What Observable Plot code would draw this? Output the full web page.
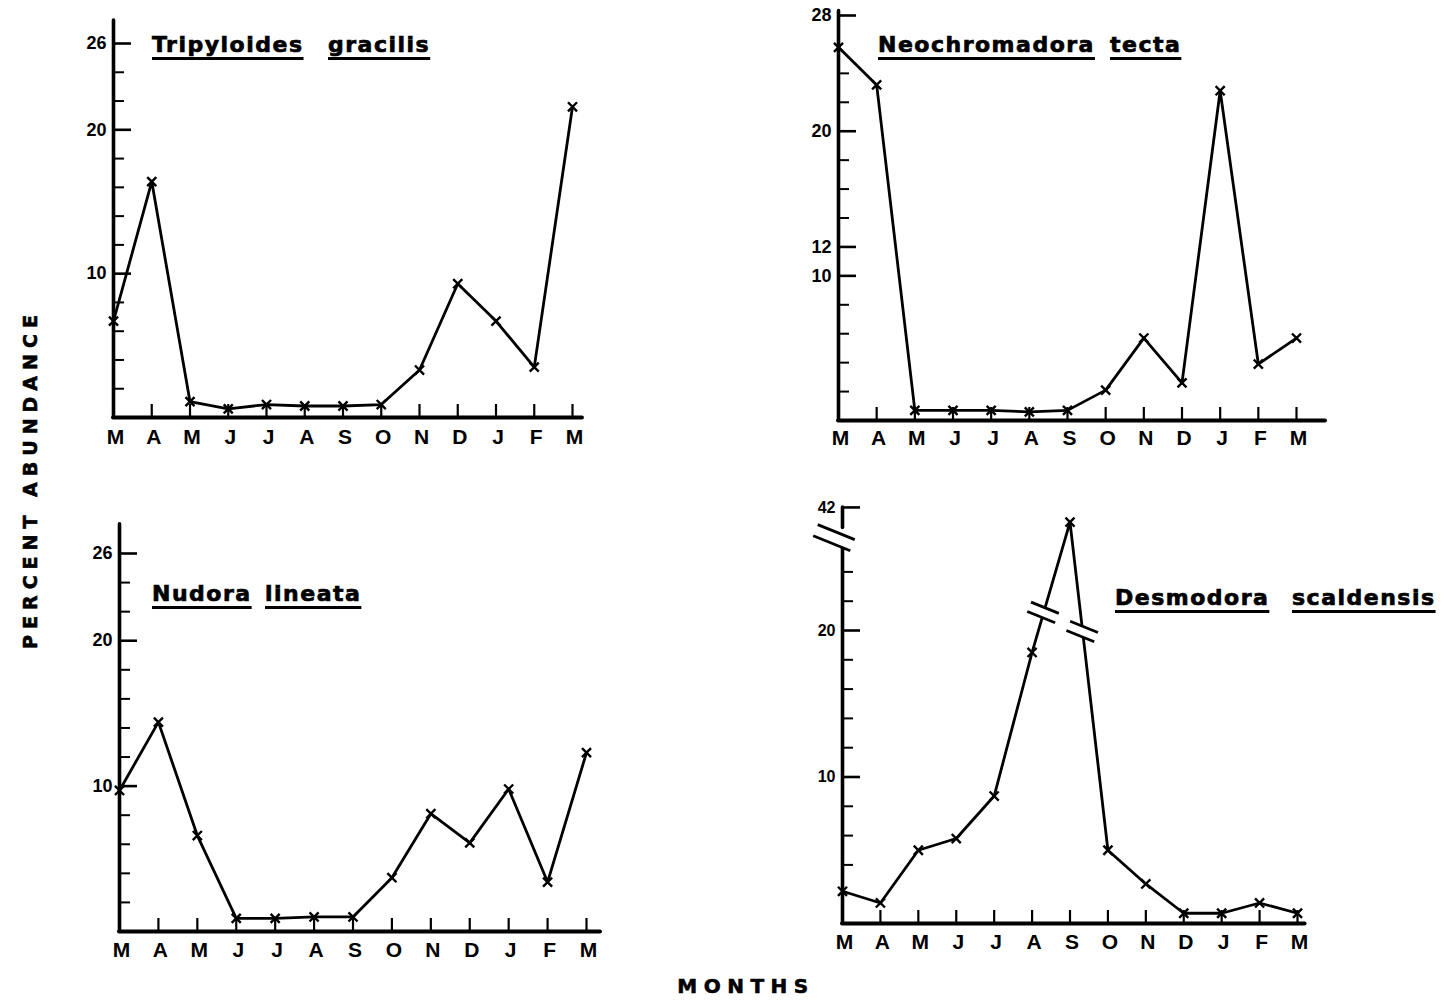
<!DOCTYPE html>
<html>
<head>
<meta charset="utf-8">
<script src="https://cdn.jsdelivr.net/npm/d3@7"></script>
<script src="https://cdn.jsdelivr.net/npm/@observablehq/plot@0.6"></script>
<style>
  html, body { margin: 0; padding: 0; background: #fff; }
  #page { position: relative; width: 1445px; height: 1001px; overflow: hidden; background: #fff; }
  .panel { position: absolute; }
  .title { position: absolute; font-family: "DejaVu Sans", sans-serif; font-weight: bold; font-size: 22px;
           line-height: 22px; letter-spacing: 1.5px; color: #000; white-space: nowrap;
           -webkit-text-stroke: 0.7px #000;
           text-decoration: underline; text-decoration-thickness: 3px; text-underline-offset: 5px;
           text-decoration-skip-ink: none; }
  .ylab { position: absolute; left: 30px; top: 479px; transform: translate(-50%, -50%) rotate(-90deg);
          font-family: "DejaVu Sans", sans-serif; font-weight: bold; font-size: 19px; letter-spacing: 6px;
          -webkit-text-stroke: 0.6px #000; white-space: nowrap; }
  .xlab { position: absolute; left: 746px; top: 986px; transform: translate(-50%, -50%);
          font-family: "DejaVu Sans", sans-serif; font-weight: bold; font-size: 20px; letter-spacing: 6.5px;
          -webkit-text-stroke: 0.6px #000; white-space: nowrap; }
</style>
</head>
<body>
<div id="page">
  <div class="title" style="left:152px; top:34px;">Tripyloides</div>
  <div class="title" style="left:328px; top:34px;">gracilis</div>
  <div class="title" style="left:878px; top:34px;">Neochromadora</div>
  <div class="title" style="left:1110px; top:34px;">tecta</div>
  <div class="title" style="left:152px; top:583px;">Nudora</div>
  <div class="title" style="left:265px; top:583px;">lineata</div>
  <div class="title" style="left:1115px; top:587px;">Desmodora</div>
  <div class="title" style="left:1292px; top:587px;">scaldensis</div>
  <div class="ylab">PERCENT ABUNDANCE</div>
  <div class="xlab">MONTHS</div>
</div>
<script>
// ---- data ----
const months = ["M","A","M","J","J","A","S","O","N","D","J","F","M"];
const tripyloidesGracilis  = [6.7, 16.4, 1.1, 0.6, 0.9, 0.8, 0.8, 0.9, 3.3, 9.3, 6.7, 3.5, 21.6];
const neochromadoraTecta   = [25.8, 23.2, 0.7, 0.7, 0.7, 0.6, 0.7, 2.1, 5.7, 2.6, 22.8, 3.9, 5.7];
const nudoraLineata        = [9.7, 14.4, 6.6, 0.9, 0.9, 1.0, 1.0, 3.7, 8.1, 6.1, 9.8, 3.4, 12.3];
const desmodoraScaldensis  = [2.2, 1.4, 5.0, 5.8, 8.7, 18.5, 41, 5.0, 2.7, 0.7, 0.7, 1.4, 0.7];

const labelsTripyloides   = [10, 20, 26];
const labelsNeochromadora = [10, 12, 20, 28];
const labelsNudora        = [10, 20, 26];
const labelsDesmodora     = [10, 20, 42];
const minorTripyloides    = [2, 4, 6, 8, 12, 14, 16, 18, 22, 24];
const minorNeochromadora  = [2, 4, 6, 8, 14, 16, 18, 22, 24];
const minorNudora         = [2, 4, 6, 8, 12, 14, 16, 18, 22, 24];
const minorDesmodora      = [4, 6, 8, 12, 14, 16, 18, 22, 24];

// broken axis for Desmodora: values above the break are shifted down
const breakShift = 13.6;
const desmodoraDisp = v => (v > 30 ? v - breakShift : v);

const page = document.getElementById("page");

function panel(o) {
  const pxX = (o.x12 - o.x0) / 12;
  const pxY = (o.y0 - o.refPx) / o.refVal;
  const disp = o.disp || (v => v);
  const rows = o.values.map((v, i) => ({i, month: months[i], v, d: disp(v)}));
  const marks = [];
  for (const [a, b] of o.ySegments) {
    marks.push(Plot.ruleX([0], {y1: a, y2: b, stroke: "#000", strokeWidth: 3.6, strokeLinecap: "round"}));
  }
  marks.push(Plot.ruleY([0], {x1: 0, x2: o.xEnd, stroke: "#000", strokeWidth: 4, strokeLinecap: "round"}));
  marks.push(Plot.ruleY(o.minors, {x1: 0, x2: 11 / pxX, stroke: "#000", strokeWidth: 2}));
  marks.push(Plot.ruleY(o.labels.map(disp), {x1: 0, x2: 18 / pxX, stroke: "#000", strokeWidth: 2.6}));
  marks.push(Plot.ruleX(d3.range(1, 13), {y1: 0, y2: 13 / pxY, stroke: "#000", strokeWidth: 2.2}));
  marks.push(Plot.text(o.labels, {x: 0, y: d => disp(d), text: d => String(d), textAnchor: "end", dx: -7,
    fontSize: o.labelSize || 18, fontWeight: "bold", fill: "#000"}));
  marks.push(Plot.text(rows, {x: "i", y: 0, text: "month", dx: 2, dy: o.labelDy, fontSize: 21, fontWeight: "bold", fill: "#000"}));
  marks.push(Plot.line(rows, {x: "i", y: "d", stroke: "#000", strokeWidth: 2.8, strokeLinejoin: "round"}));
  marks.push(Plot.dot(rows, {x: "i", y: "d", symbol: "times", r: 4.2, stroke: "#000", strokeWidth: 2.4}));

  const plot = Plot.plot({
    width: o.box[2], height: o.box[3],
    marginLeft: o.x0 - o.box[0], marginRight: o.box[0] + o.box[2] - o.x12,
    marginTop: o.refPx - o.box[1], marginBottom: o.box[1] + o.box[3] - o.y0,
    x: {type: "linear", domain: [0, 12], axis: null},
    y: {type: "linear", domain: [0, o.refVal], axis: null},
    style: {background: "transparent", overflow: "visible", fontFamily: "'Liberation Sans', Arial, sans-serif", color: "#000"},
    marks
  });
  plot.classList.add("panel");
  plot.style.left = o.box[0] + "px";
  plot.style.top = o.box[1] + "px";
  page.appendChild(plot);
  return plot;
}

function breakSymbol(svg, cx, cy, len, sep, angleDeg) {
  const a = angleDeg * Math.PI / 180;
  const ux = Math.cos(a), uy = Math.sin(a);
  const nx = -uy, ny = ux;
  const h = len / 2;
  const seg = s => [[cx - ux * h + nx * s, cy - uy * h + ny * s], [cx + ux * h + nx * s, cy + uy * h + ny * s]];
  const l1 = seg(-sep / 2), l2 = seg(sep / 2);
  const g = d3.select(svg).append("g");
  g.append("polygon").attr("points", [l1[0], l1[1], l2[1], l2[0]].map(q => q.join(",")).join(" ")).attr("fill", "#fff");
  for (const l of [l1, l2]) {
    g.append("line").attr("x1", l[0][0]).attr("y1", l[0][1]).attr("x2", l[1][0]).attr("y2", l[1][1])
      .attr("stroke", "#000").attr("stroke-width", 2.8);
  }
}

panel({box: [0, 0, 722, 480], x0: 113, x12: 572, y0: 417, refVal: 26, refPx: 43,
  ySegments: [[0, 27.6]], xEnd: 12.26, values: tripyloidesGracilis,
  labels: labelsTripyloides, minors: minorTripyloides, labelDy: 20});

panel({box: [722, 0, 723, 480], x0: 838, x12: 1296, y0: 420, refVal: 28, refPx: 15,
  ySegments: [[0, 28.3]], xEnd: 12.76, values: neochromadoraTecta,
  labels: labelsNeochromadora, minors: minorNeochromadora, labelDy: 18});

panel({box: [0, 480, 722, 480], x0: 119, x12: 586, y0: 931, refVal: 26, refPx: 553,
  ySegments: [[0, 28.0]], xEnd: 12.36, values: nudoraLineata,
  labels: labelsNudora, minors: minorNudora, labelDy: 19});

const p4 = panel({box: [722, 480, 723, 480], x0: 842, x12: 1297, y0: 923, refVal: 20, refPx: 630,
  ySegments: [[0, 25.6], [27.0, desmodoraDisp(42)]], xEnd: 12.2, values: desmodoraScaldensis,
  disp: desmodoraDisp, labels: labelsDesmodora, minors: minorDesmodora, labelDy: 19, labelSize: 16});

// break symbols for Desmodora (axis and the two segments around the peak)
{
  const sx = p4.scale("x"), sy = p4.scale("y");
  const d = desmodoraScaldensis.map(desmodoraDisp);
  breakSymbol(p4, sx.apply(0) - 8, sy.apply(26.3), 40, 12, 22);
  const onSegment = (i, j, level) => i + (level - d[i]) / (d[j] - d[i]) * (j - i);
  const peak = d.indexOf(d3.max(d));
  const lvlUp = 21.2, lvlDown = 19.9;
  breakSymbol(p4, sx.apply(onSegment(peak - 1, peak, lvlUp)), sy.apply(lvlUp), 30, 10, 22);
  breakSymbol(p4, sx.apply(onSegment(peak, peak + 1, lvlDown)), sy.apply(lvlDown), 30, 10, 22);
}
</script>
</body>
</html>
